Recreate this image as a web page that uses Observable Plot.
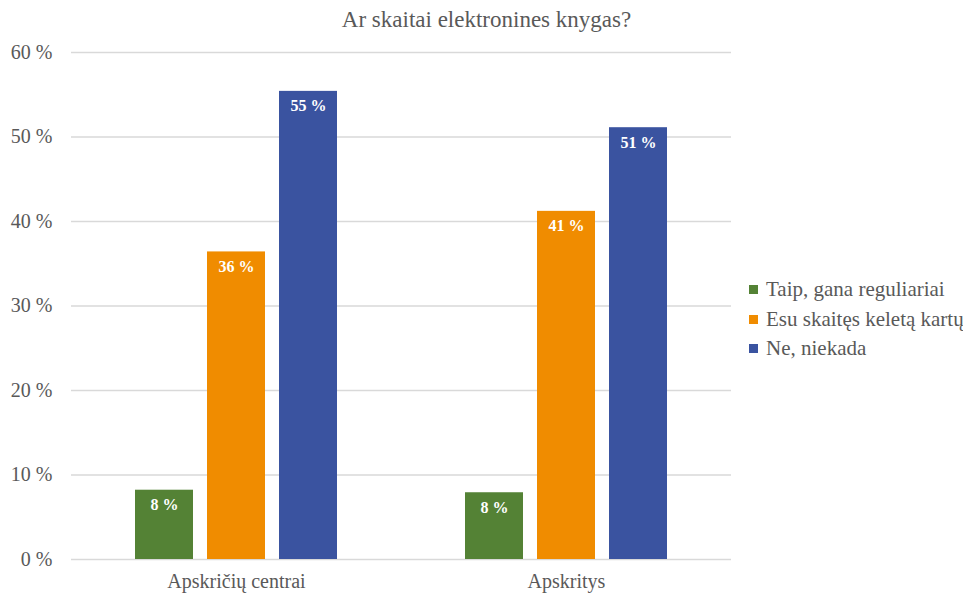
<!DOCTYPE html>
<html><head><meta charset="utf-8">
<script src="https://cdn.jsdelivr.net/npm/d3@7"></script>
<script src="https://cdn.jsdelivr.net/npm/@observablehq/plot@0.6"></script>
<style>
body{margin:0;background:#fff;}
#wrap{position:relative;width:963px;height:593px;color:#595959;overflow:hidden;}
#wrap, #wrap *{font-family:'Liberation Serif', serif;}
#title{position:absolute;left:0;width:973px;top:7px;text-align:center;font-size:23px;}
#legend{position:absolute;left:749px;top:275px;font-size:21px;}
#legend .row{display:flex;align-items:center;height:29.5px;white-space:nowrap;}
#legend .sw{width:9px;height:9px;margin-right:8px;}
#chart{position:absolute;left:0;top:0;}
</style></head><body><div id="wrap"><div id="chart"></div><div id="title"></div><div id="legend"></div></div>
<script>
const title = "Ar skaitai elektronines knygas?";
const groups = ["Apskričių centrai", "Apskritys"];
const series = ["Taip, gana reguliariai", "Esu skaitęs keletą kartų", "Ne, niekada"];
const valuesCentrai = [8.2, 36.4, 55.4];
const valuesApskritys = [7.9, 41.2, 51.1];
const colors = ["#548235", "#F08C00", "#3A53A0"];
const yTicks = [0, 10, 20, 30, 40, 50, 60];

const data = [];
series.forEach((s, i) => data.push({group: groups[0], series: s, value: valuesCentrai[i]}));
series.forEach((s, i) => data.push({group: groups[1], series: s, value: valuesApskritys[i]}));

const chart = Plot.plot({
  width: 963, height: 593,
  marginTop: 52, marginBottom: 34, marginLeft: 71, marginRight: 232,
  style: {fontFamily: "'Liberation Serif', serif", fontSize: "20px", color: "#595959", background: "#fff"},
  fx: {domain: groups, padding: 0, label: null, axis: "bottom", tickSize: 0, tickPadding: 14, fontSize: 21},
  x: {domain: series, paddingInner: 0.2, paddingOuter: 0.88, axis: null},
  y: {domain: [0, 60], ticks: yTicks, tickFormat: d => d + " %", label: null, tickSize: 0, tickPadding: 19},
  color: {domain: series, range: colors},
  marks: [
    Plot.gridY(yTicks, {stroke: "#d9d9d9", strokeOpacity: 1, strokeWidth: 1.3}),
    Plot.barY(data, {fx: "group", x: "series", y: "value", fill: "series"}),
    Plot.text(data, {fx: "group", x: "series", y: "value", text: d => Math.round(d.value) + " %", dy: 15, fill: "white", fontWeight: "bold", fontSize: 16})
  ]
});
document.getElementById("chart").appendChild(chart);
document.getElementById("title").textContent = title;
const lg = document.getElementById("legend");
series.forEach((s, i) => {
  const r = document.createElement("div"); r.className = "row";
  const sw = document.createElement("span"); sw.className = "sw"; sw.style.background = colors[i];
  const t = document.createElement("span"); t.textContent = s;
  r.appendChild(sw); r.appendChild(t); lg.appendChild(r);
});
</script></body></html>
